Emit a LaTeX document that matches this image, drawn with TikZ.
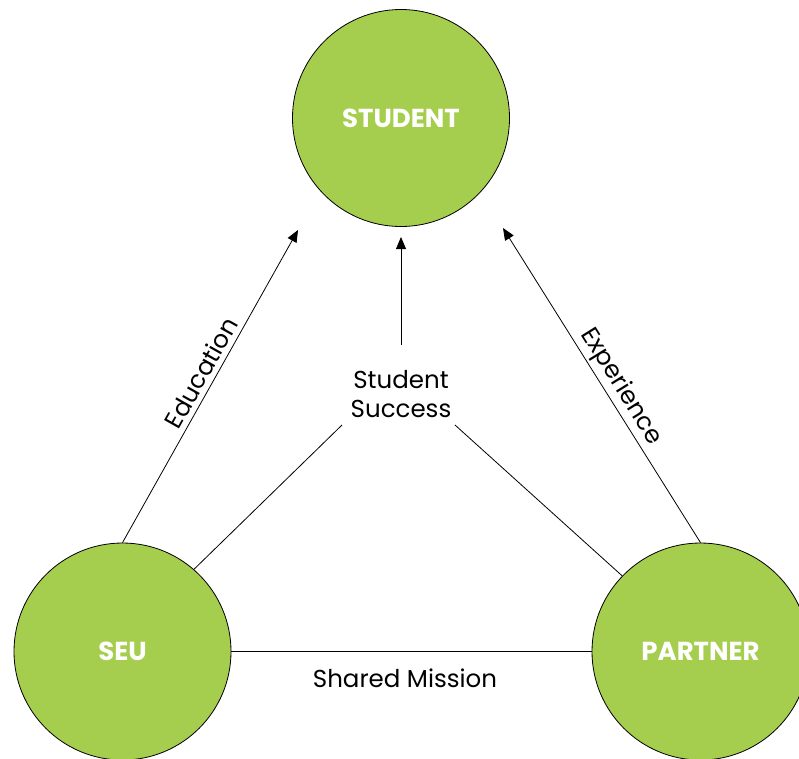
\documentclass[tikz,border=0pt]{standalone}
\usepackage{fontspec}
\setmainfont{Poppins}
\usetikzlibrary{arrows.meta}
\definecolor{leaf}{RGB}{166,206,78}
\begin{document}
\begin{tikzpicture}[x=1pt,y=-1pt,
  bubble/.style={circle,draw=black,line width=0.8pt,fill=leaf,minimum size=217pt,inner sep=0pt,
    text=white,font=\fontsize{26}{30}\selectfont\bfseries},
  link/.style={line width=0.8pt,draw=black},
  arrowlink/.style={link,-{Triangle[length=12pt,width=10pt]}},
  lbl/.style={font=\fontsize{24.5}{29}\selectfont,text=black,inner sep=0pt}]
\useasboundingbox (0,0) rectangle (799,758);
\node[bubble] (stu) at (401,118) {STUDENT};
\node[bubble] (seu) at (122.5,651.5) {SEU};
\node[bubble] (par) at (700.5,651.5) {PARTNER};
\node[lbl,align=center] (ss) at (401,394) {Student\\Success};
\node[lbl] (sm) at (405,678) {Shared Mission};
\coordinate (eduTip) at (298,230);
\coordinate (expTip) at (503,228);
\coordinate (midTip) at (401,237);
\coordinate (midBase) at (401,345);
\coordinate (ssL) at (342,425);
\coordinate (ssR) at (455,425);
\draw[arrowlink] (seu.north) -- (eduTip);
\draw[arrowlink] (par.north) -- (expTip);
\draw[arrowlink] (midBase) -- (midTip);
\draw[link] (seu.49) -- (ssL);
\draw[link] (par.136) -- (ssR);
\draw[link] (seu.east) -- (par.west);
\node[lbl,rotate=60.6] (edu) at (201,373) {Education};
\node[lbl,rotate=-58] (exp) at (621,387) {Experience};
\end{tikzpicture}
\end{document}
